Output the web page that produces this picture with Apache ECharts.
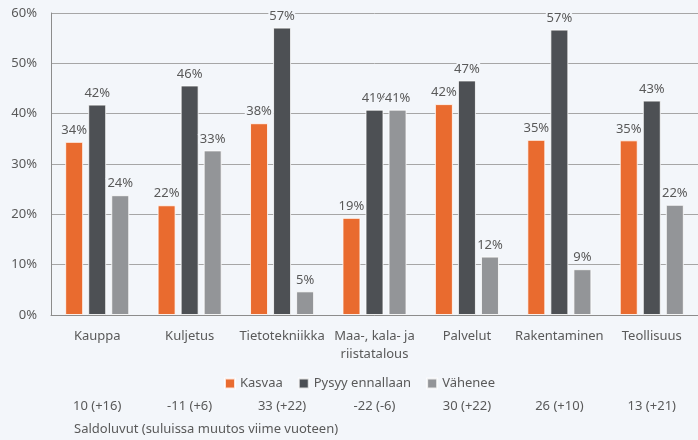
<!DOCTYPE html>
<html>
<head>
<meta charset="utf-8">
<script src="https://cdn.jsdelivr.net/npm/echarts@6/dist/echarts.min.js"></script>
<style>
  html, body { margin: 0; padding: 0; background: #f3f6fa; }
  #chart { width: 698px; height: 440px; }
</style>
</head>
<body>
<div id="chart"></div>
<script>
const categories = ['Kauppa', 'Kuljetus', 'Tietotekniikka', 'Maa-, kala- ja\nriistatalous', 'Palvelut', 'Rakentaminen', 'Teollisuus']
const kasvaa = [34.4, 21.8, 38.1, 19.3, 41.9, 34.8, 34.7]
const pysyy = [41.8, 45.6, 57.1, 40.8, 46.6, 56.7, 42.6]
const vahenee = [23.8, 32.7, 4.7, 40.8, 11.6, 9.1, 21.9]
const saldo = ['10 (+16)', '-11 (+6)', '33 (+22)', '-22 (-6)', '30 (+22)', '26 (+10)', '13 (+21)']
const yTicks = [0, 10, 20, 30, 40, 50, 60]

const bg = '#f3f6fa'
const textColor = '#595959'
const font = '"Noto Sans", sans-serif'

let chart = echarts.init(document.getElementById('chart'))

// yhteinen tyyli jokaiselle sarjalle
function barSeries(name, data, color) {
    return {
        name: name,
        type: 'bar',
        data: data,
        barWidth: 18,
        barGap: '28%',
        itemStyle: { color: color, borderColor: 'rgba(255,255,255,0.8)', borderWidth: 1 },
        label: {
            show: true,
            position: 'top',
            distance: 5,
            color: textColor,
            fontSize: 13,
            fontFamily: font,
            textBorderColor: bg,
            textBorderWidth: 4,
            formatter: p => Math.round(p.value) + '%'
        }
    }
}

let option = {
    backgroundColor: bg,
    animation: false,
    textStyle: { fontFamily: font },
    grid: { left: 51, right: 0, top: 13, bottom: 125 },
    legend: {
        left: 219,
        top: 372,
        itemWidth: 10,
        itemHeight: 10,
        itemGap: 15,
        icon: 'rect',
        textStyle: { color: textColor, fontSize: 13, fontFamily: font },
        data: ['Kasvaa', 'Pysyy ennallaan', 'Vähenee']
    },
    xAxis: [{
        type: 'category',
        data: categories,
        axisLine: { lineStyle: { color: '#8c8c8c' } },
        axisTick: { show: false },
        axisLabel: { color: textColor, fontSize: 13, fontFamily: font, margin: 12, lineHeight: 18, interval: 0 }
    }, {
        type: 'category',
        data: saldo,
        position: 'bottom',
        offset: 73,
        axisLine: { show: false },
        axisTick: { show: false },
        axisLabel: { color: textColor, fontSize: 13, fontFamily: font, margin: 12, interval: 0 }
    }],
    yAxis: {
        type: 'value',
        min: yTicks[0],
        max: yTicks[yTicks.length - 1],
        interval: 10,
        axisLine: { show: true, lineStyle: { color: '#8c8c8c' } },
        axisTick: { show: false },
        axisLabel: { color: textColor, fontSize: 13, fontFamily: font, margin: 14, formatter: '{value}%' },
        splitLine: { lineStyle: { color: '#a6a6a6' } }
    },
    graphic: [{
        type: 'text',
        left: 74,
        top: 423,
        style: { text: 'Saldoluvut (suluissa muutos viime vuoteen)', fill: textColor, fontSize: 13, fontFamily: font }
    }],
    series: [
        barSeries('Kasvaa', kasvaa, '#e96b2f'),
        barSeries('Pysyy ennallaan', pysyy, '#4d5054'),
        barSeries('Vähenee', vahenee, '#939598')
    ]
}

chart.setOption(option)
</script>
</body>
</html>
